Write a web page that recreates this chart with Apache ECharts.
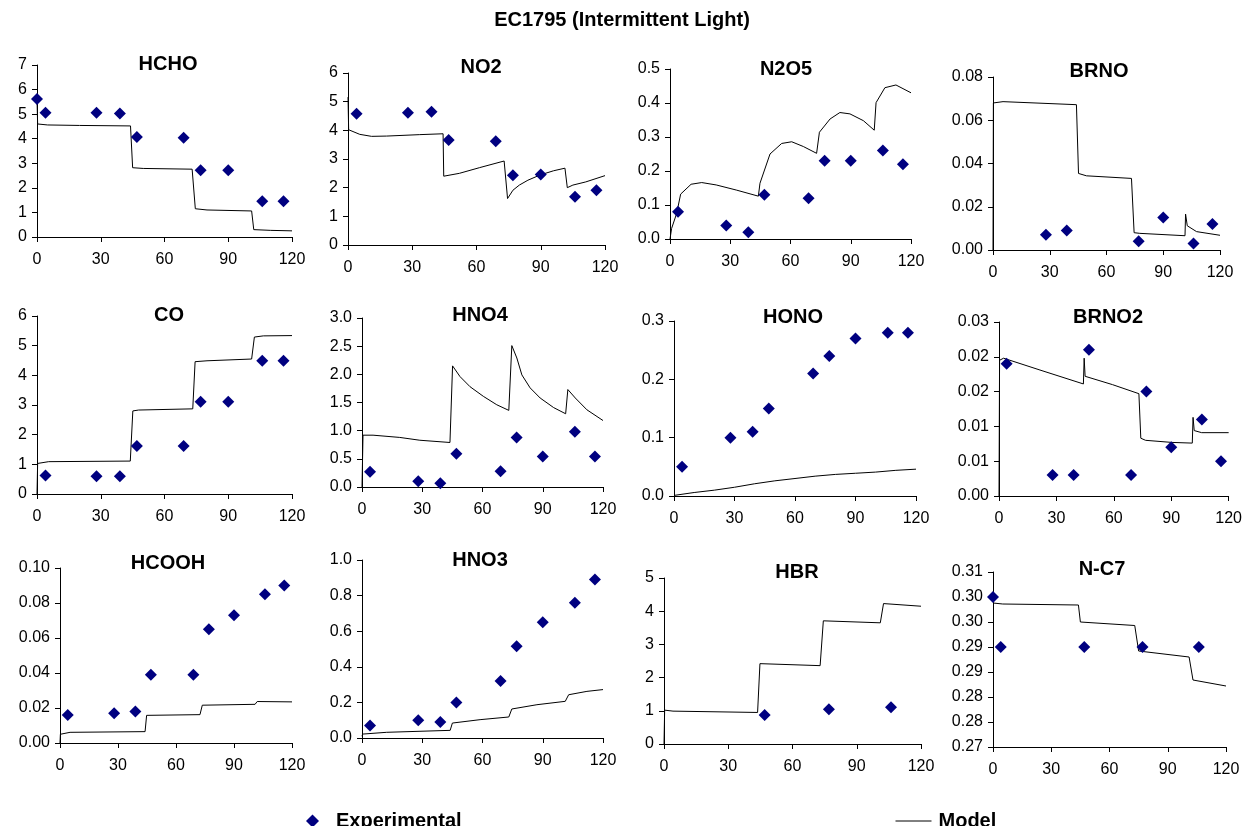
<!DOCTYPE html>
<html>
<head>
<meta charset="utf-8">
<script src="https://cdn.jsdelivr.net/npm/echarts@6/dist/echarts.min.js"></script>
<style>
html,body{margin:0;padding:0;background:#fff;}
#chart{width:1245px;height:826px;}
</style>
</head>
<body>
<div id="chart"></div>
<script>
// ---------- DATA ----------
const xTicks = ['0','30','60','90','120'];

const hchoExp = [[0,5.62],[4,5.06],[28,5.06],[39,5.03],[47,4.07],[69,4.04],[77,2.72],[90,2.72],[106,1.45],[116,1.45]];
const hchoModel = [[0,5.6],[0.3,4.6],[5,4.56],[20,4.54],[44,4.52],[45,2.82],[50,2.79],[73,2.76],[74.5,1.15],[80,1.1],[101,1.06],[102,0.3],[110,0.27],[120,0.25]];
const hchoTicks = ['0','1','2','3','4','5','6','7'];

const no2Exp = [[4,4.58],[28,4.61],[39,4.65],[47,3.66],[69,3.62],[77,2.43],[90,2.46],[106,1.68],[116,1.91]];
const no2Model = [[0,5.16],[0.3,4.02],[5.5,3.86],[11,3.79],[18,3.8],[33.5,3.85],[44.4,3.88],[44.7,2.4],[52,2.5],[61.5,2.7],[72.9,2.93],[74.5,1.62],[77,1.91],[80,2.09],[84,2.26],[89.6,2.44],[96,2.59],[101.3,2.68],[102.4,2.0],[105,2.09],[111,2.2],[120,2.42]];
const no2Ticks = ['0','1','2','3','4','5','6'];

const n2o5Exp = [[4,0.08],[28,0.04],[39,0.02],[47,0.13],[69,0.12],[77,0.23],[90,0.23],[106,0.26],[116,0.22]];
const n2o5Model = [[0,0],[0.8,0.031],[3.3,0.075],[5.3,0.132],[10.5,0.161],[15.8,0.166],[23,0.159],[33,0.144],[44,0.126],[44.5,0.122],[44.8,0.164],[49.8,0.25],[55.6,0.281],[60.6,0.286],[66.4,0.272],[73,0.252],[73.5,0.247],[74.4,0.314],[79.7,0.353],[84.6,0.372],[89.6,0.368],[96.3,0.348],[101.7,0.32],[102.6,0.401],[107,0.445],[112.5,0.453],[120,0.43]];
const n2o5Ticks = ['0.0','0.1','0.2','0.3','0.4','0.5'];

const brnoExp = [[28,0.007],[39,0.009],[77,0.004],[90,0.015],[106,0.003],[116,0.012]];
const brnoModel = [[0,0],[0.2,0.068],[5.3,0.0686],[44.1,0.0672],[45.2,0.0354],[49.4,0.0343],[73.2,0.0331],[74.6,0.008],[77.6,0.0077],[101.5,0.0066],[101.8,0.0166],[102.7,0.0112],[107.6,0.0085],[120,0.0068]];
const brnoTicks = ['0.00','0.02','0.04','0.06','0.08'];

const coExp = [[4,0.62],[28,0.6],[39,0.6],[47,1.62],[69,1.62],[77,3.11],[90,3.11],[106,4.49],[116,4.49]];
const coModel = [[0,0],[0.3,1.03],[5.5,1.09],[43.9,1.11],[45.1,2.8],[47.8,2.83],[73.3,2.87],[74.4,4.46],[80,4.49],[101,4.55],[102.3,5.29],[106.5,5.33],[120,5.34]];
const coTicks = ['0','1','2','3','4','5','6'];

const hno4Exp = [[4,0.27],[28,0.1],[39,0.065],[47,0.59],[69,0.28],[77,0.88],[90,0.54],[106,0.98],[116,0.54]];
const hno4Model = [[0,0],[0.5,0.92],[5.5,0.92],[18.8,0.88],[28.8,0.83],[43.8,0.79],[45.1,2.15],[48.8,1.96],[53.8,1.78],[60.4,1.61],[67.1,1.46],[73.1,1.36],[74.6,2.51],[77.1,2.29],[79.6,1.99],[83.7,1.76],[88.7,1.58],[95.4,1.41],[101.4,1.3],[102.5,1.73],[106.2,1.58],[112,1.37],[120,1.18]];
const hno4Ticks = ['0.0','0.5','1.0','1.5','2.0','2.5','3.0'];

const honoExp = [[4,0.05],[28,0.1],[39,0.11],[47,0.15],[69,0.21],[77,0.24],[90,0.27],[106,0.28],[116,0.28]];
const honoModel = [[0,0.001],[10,0.006],[20,0.010],[30,0.015],[40,0.021],[50,0.026],[60,0.030],[70,0.034],[80,0.037],[90,0.039],[100,0.041],[110,0.044],[120,0.046]];
const honoTicks = ['0.0','0.1','0.2','0.3'];

const brno2Exp = [[4,0.019],[28,0.003],[39,0.003],[47,0.021],[69,0.003],[77,0.015],[90,0.007],[106,0.011],[116,0.005]];
const brno2Model = [[0,0],[0.3,0.0195],[2.4,0.0198],[21.4,0.0181],[44.1,0.0161],[44.5,0.0198],[45,0.0172],[59.3,0.016],[73.1,0.0147],[74.1,0.0083],[76.6,0.008],[90.3,0.0077],[101,0.0076],[101.4,0.0113],[102,0.0094],[105.9,0.0091],[120,0.0091]];
const brno2Ticks = ['0.00','0.01','0.01','0.02','0.02','0.03'];

const hcoohExp = [[4,0.016],[28,0.017],[39,0.018],[47,0.039],[69,0.039],[77,0.065],[90,0.073],[106,0.085],[116,0.09]];
const hcoohModel = [[0,0],[0.2,0.005],[5.2,0.0061],[44,0.0065],[44.8,0.0158],[72.4,0.0162],[73.6,0.0216],[100.9,0.0221],[102,0.0237],[120,0.0235]];
const hcoohTicks = ['0.00','0.02','0.04','0.06','0.08','0.10'];

const hno3Exp = [[4,0.07],[28,0.1],[39,0.09],[47,0.2],[69,0.32],[77,0.515],[90,0.65],[106,0.76],[116,0.89]];
const hno3Model = [[0,0.01],[0.3,0.022],[12.3,0.032],[43.9,0.043],[45,0.084],[58.8,0.103],[73.1,0.118],[74.6,0.163],[87.1,0.187],[101.2,0.206],[102.9,0.243],[112,0.262],[120,0.272]];
const hno3Ticks = ['0.0','0.2','0.4','0.6','0.8','1.0'];

const hbrExp = [[47,0.87],[77,1.05],[106,1.11]];
const hbrModel = [[0,0],[0.3,1.02],[4.2,0.99],[43.7,0.95],[44.8,2.42],[72.9,2.36],[74.4,3.71],[101,3.65],[102.5,4.23],[120,4.15]];
const hbrTicks = ['0','1','2','3','4','5'];

const nc7Exp = [[0,0.3],[4,0.29],[47,0.29],[77,0.29],[106,0.29]];
const nc7Model = [[0,0.2988],[5,0.2986],[44,0.2984],[45,0.295],[73,0.2943],[75,0.2892],[101,0.288],[103,0.2834],[120,0.2822]];
const nc7Ticks = ['0.27','0.28','0.28','0.29','0.29','0.30','0.30','0.31'];

// ---------- LAYOUT / CONFIG ----------
const FONT = '"Liberation Sans", Arial, sans-serif';
const panels = [
  {name:'HCHO',  exp:hchoExp,  model:hchoModel,  ticks:hchoTicks,  min:0, step:1,     rect:[37,65,255,172],  tx:168, ty:65},
  {name:'NO2',   exp:no2Exp,   model:no2Model,   ticks:no2Ticks,   min:0, step:1,     rect:[348,73,257,172], tx:481, ty:68},
  {name:'N2O5',  exp:n2o5Exp,  model:n2o5Model,  ticks:n2o5Ticks,  min:0, step:0.1,   rect:[670,69,241,170], tx:786, ty:70},
  {name:'BRNO',  exp:brnoExp,  model:brnoModel,  ticks:brnoTicks,  min:0, step:0.02,  rect:[993,77,227,173], tx:1099, ty:72},
  {name:'CO',    exp:coExp,    model:coModel,    ticks:coTicks,    min:0, step:1,     rect:[37,316,255,178], tx:169, ty:316},
  {name:'HNO4',  exp:hno4Exp,  model:hno4Model,  ticks:hno4Ticks,  min:0, step:0.5,   rect:[362,318,241,169], tx:480, ty:316},
  {name:'HONO',  exp:honoExp,  model:honoModel,  ticks:honoTicks,  min:0, step:0.1,   rect:[674,321,242,175], tx:793, ty:318},
  {name:'BRNO2', exp:brno2Exp, model:brno2Model, ticks:brno2Ticks, min:0, step:0.005, rect:[999,322,232,174], tx:1108, ty:318},
  {name:'HCOOH', exp:hcoohExp, model:hcoohModel, ticks:hcoohTicks, min:0, step:0.02,  rect:[60,568,232,175],  tx:168, ty:564},
  {name:'HNO3',  exp:hno3Exp,  model:hno3Model,  ticks:hno3Ticks,  min:0, step:0.2,   rect:[362,560,241,178], tx:480, ty:561},
  {name:'HBR',   exp:hbrExp,   model:hbrModel,   ticks:hbrTicks,   min:0, step:1,     rect:[664,578,257,166], tx:797, ty:573},
  {name:'N-C7',  exp:nc7Exp,   model:nc7Model,   ticks:nc7Ticks,   min:0.27, step:0.005, rect:[993,572,233,175], tx:1102, ty:570}
];

const grids = [], xAxes = [], yAxes = [], series = [];
const titles = [{
  text: 'EC1795 (Intermittent Light)', left: 622, top: 10, textAlign: 'center', padding: 0,
  textStyle: {fontFamily: FONT, fontSize: 20, fontWeight: 'bold', color: '#000'}
}];

panels.forEach((p, i) => {
  grids.push({left: p.rect[0], top: p.rect[1], width: p.rect[2], height: p.rect[3]});
  const axisCommon = {
    axisLine: {show: true, onZero: false, lineStyle: {color: '#000', width: 1}},
    axisTick: {show: true, length: 5, lineStyle: {color: '#000', width: 1}},
    splitLine: {show: false}
  };
  xAxes.push(Object.assign({
    type: 'value', gridIndex: i, min: 0, max: 120, interval: 30,
    axisLabel: {margin: 15, fontSize: 16, color: '#000', fontFamily: FONT,
      formatter: v => xTicks[Math.round(v / 30)]}
  }, axisCommon));
  const maxV = p.min + p.step * (p.ticks.length - 1);
  yAxes.push(Object.assign({
    type: 'value', gridIndex: i, min: p.min, max: maxV, interval: p.step,
    axisLabel: {margin: 10, fontSize: 16, color: '#000', fontFamily: FONT,
      formatter: v => p.ticks[Math.round((v - p.min) / p.step)]}
  }, axisCommon));
  titles.push({
    text: p.name, left: p.tx, top: p.ty - 11, textAlign: 'center', padding: 0,
    textStyle: {fontFamily: FONT, fontSize: 20, fontWeight: 'bold', color: '#000'}
  });
  series.push({
    name: 'Model', type: 'line', xAxisIndex: i, yAxisIndex: i, data: p.model,
    symbol: 'none', showSymbol: false, smooth: false, z: 2,
    lineStyle: {color: '#000', width: 1}, itemStyle: {color: '#000'}
  });
  series.push({
    name: 'Experimental', type: 'scatter', xAxisIndex: i, yAxisIndex: i, data: p.exp,
    symbol: 'diamond', symbolSize: 12, z: 3,
    itemStyle: {color: '#000080', opacity: 1}
  });
});

const chart = echarts.init(document.getElementById('chart'), null, {renderer: 'canvas'});
chart.setOption({
  animation: false,
  backgroundColor: '#fff',
  title: titles,
  grid: grids,
  xAxis: xAxes,
  yAxis: yAxes,
  legend: [
    {data: [{name: 'Experimental', icon: 'diamond'}], left: 306, top: 811, itemWidth: 13, itemHeight: 13, itemGap: 0, padding: 0,
     itemStyle: {color: '#000080', opacity: 1},
     textStyle: {fontFamily: FONT, fontSize: 20, fontWeight: 'bold', color: '#000', padding: [0,0,0,12]}},
    {data: ['Model'], left: 895, top: 811, itemWidth: 36, itemHeight: 14, itemGap: 0, padding: 0,
     itemStyle: {opacity: 0, borderWidth: 0},
     lineStyle: {color: '#000', width: 1, opacity: 1},
     textStyle: {fontFamily: FONT, fontSize: 20, fontWeight: 'bold', color: '#000', padding: [0,0,0,2]}}
  ],
  series: series
});
</script>
</body>
</html>
